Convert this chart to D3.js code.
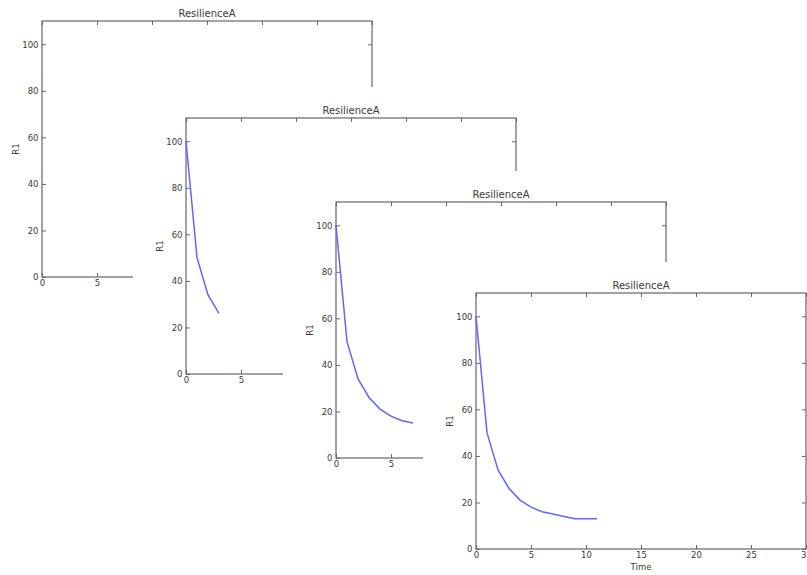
<!DOCTYPE html>
<html>
<head>
<meta charset="utf-8">
<script src="https://cdn.jsdelivr.net/npm/d3@7/dist/d3.min.js"></script>
<style>
    body { margin: 0; background: #fff; }
    text { font-family: "DejaVu Sans", sans-serif; fill: #3a3a3a; }
    .spine { fill: none; stroke: #666; stroke-width: 1.2px; }
    .series { fill: none; stroke: #6464ff; stroke-width: 1.5px; }
</style>
</head>
<body>
<script>
    // data: every window shows the same run, cut at a later time step
    var title = "ResilienceA";
    var yLabel = "R1";
    var xLabel = "Time";
    var xTicks = [0, 5, 10, 15, 20, 25, 30];
    var yTicks = [0, 20, 40, 60, 80, 100];
    var r1Full = [100, 50, 34, 26, 21, 18, 16, 15, 14, 13, 13, 13];
    var stepsShown = [1, 4, 8, 12];   // how many points each window has plotted

    // layout of the stacked windows (axes top-left corners)
    var width = 807, height = 575;
    var plotW = 330, plotH = 256;
    var frames = [
        { x: 42, y: 21 },
        { x: 186, y: 118 },
        { x: 336, y: 202 },
        { x: 476, y: 293 }
    ];

    var svg = d3.select("body").append("svg")
        .attr("width", width)
        .attr("height", height);

    var x = d3.scaleLinear().domain([0, 30]).range([0, plotW]);
    var y = d3.scaleLinear().domain([0, 110]).range([plotH, 0]);

    var line = d3.line()
        .x(function (d, i) { return x(i); })
        .y(function (d) { return y(d); });

    frames.forEach(function (f, k) {
        var g = svg.append("g").attr("transform", "translate(" + f.x + "," + f.y + ")");

        // window background hides whatever sits under it
        g.append("rect")
            .attr("x", -53).attr("y", -31)
            .attr("width", plotW + 120).attr("height", plotH + 60)
            .attr("fill", "#fff");

        // ticks point inward, on all four sides
        g.append("g")
            .attr("transform", "translate(0," + plotH + ")")
            .call(d3.axisBottom(x).tickValues(xTicks).tickSizeInner(-4).tickSizeOuter(0).tickPadding(2.5))
            .call(tidy);
        g.append("g")
            .call(d3.axisTop(x).tickValues(xTicks).tickSizeInner(-4).tickSizeOuter(0).tickFormat(""))
            .call(tidy);
        g.append("g")
            .call(d3.axisLeft(y).tickValues(yTicks).tickSizeInner(-4).tickSizeOuter(0).tickPadding(3.5))
            .call(tidy);
        g.append("g")
            .attr("transform", "translate(" + plotW + ",0)")
            .call(d3.axisRight(y).tickValues(yTicks).tickSizeInner(-4).tickSizeOuter(0).tickFormat(""))
            .call(tidy);

        g.append("rect").attr("class", "spine")
            .attr("width", plotW).attr("height", plotH);

        var pts = r1Full.slice(0, stepsShown[k]);
        g.append("path").attr("class", "series").attr("d", line(pts));

        g.append("text")
            .attr("x", plotW / 2).attr("y", -4)
            .attr("text-anchor", "middle")
            .style("font-size", "10px")
            .text(title);

        g.append("text")
            .attr("transform", "translate(-23," + plotH / 2 + ") rotate(-90)")
            .attr("text-anchor", "middle")
            .style("font-size", "8.5px")
            .text(yLabel);

        if (k === frames.length - 1) {
            g.append("text")
                .attr("x", plotW / 2).attr("y", plotH + 21)
                .attr("text-anchor", "middle")
                .style("font-size", "8.5px")
                .text(xLabel);
        }
    });

    function tidy(sel) {
        sel.select(".domain").remove();
        sel.selectAll("text").style("font-size", "8.5px").attr("fill", "#3a3a3a");
        sel.selectAll("line").attr("stroke", "#666");
    }
</script>
</body>
</html>
